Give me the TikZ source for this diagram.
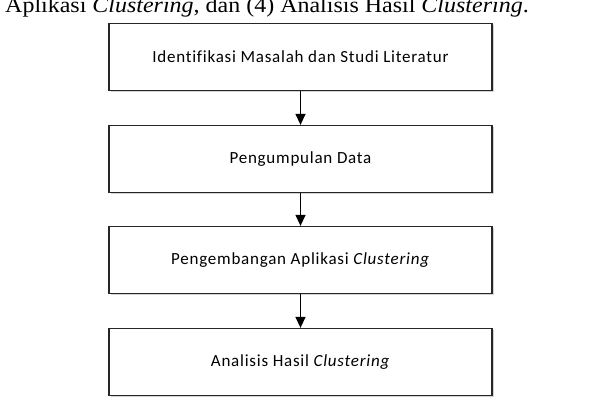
\documentclass[tikz,border=0pt]{standalone}
\usepackage{fontspec}
\setmainfont{Carlito}[LetterSpace=4.5, Ligatures=NoCommon]
\newfontfamily\bodyserif{Liberation Serif}[FakeStretch=1.09]
\usetikzlibrary{arrows.meta,shadows}

\tikzset{
  stepbox/.style={draw=black!85, line width=1.3pt, fill=white,
    minimum width=383pt, minimum height=67pt, inner sep=0pt,
    font=\fontsize{17}{20}\selectfont,
    drop shadow={shadow xshift=1.5pt, shadow yshift=-1.5pt, opacity=0.35}},
  flow/.style={line width=1.4pt, -{Triangle[length=11pt,width=10pt]}}
}

\begin{document}
\begin{tikzpicture}
  [x=1pt, y=-1pt]
  \useasboundingbox (0,0) rectangle (612,404);
  \clip (0,0) rectangle (612,404);

  \node[anchor=base west, font=\bodyserif\fontsize{22}{24}\selectfont, inner sep=0pt] (prev) at (5,13)
    {Aplikasi \textit{Clustering}, dan (4) Analisis Hasil \textit{Clustering}.};

  \node[stepbox] (s1) at (300.5,57)  {Identifikasi Masalah dan Studi Literatur};
  \node[stepbox] (s2) at (300.5,159) {Pengumpulan Data};
  \node[stepbox] (s3) at (300.5,260) {Pengembangan Aplikasi \textit{Clustering}};
  \node[stepbox] (s4) at (300.5,362) {Analisis Hasil \textit{Clustering}};

  \draw[flow] (s1) -- (s2);
  \draw[flow] (s2) -- (s3);
  \draw[flow] (s3) -- (s4);

\end{tikzpicture}
\end{document}
